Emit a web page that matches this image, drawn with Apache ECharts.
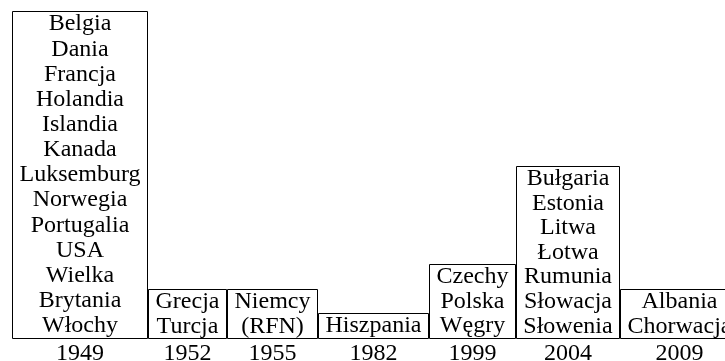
<!DOCTYPE html>
<html lang="pl">
<head>
    <meta charset="UTF-8">
    <title>NATO - kraje członkowskie</title>
    <script src="https://cdn.jsdelivr.net/npm/echarts@6/dist/echarts.min.js"></script>
    <style>
        body { margin: 0; background: #fff; }
        #chart { width: 725px; height: 361px; }
    </style>
</head>
<body>
    <div id="chart"></div>
    <script>
        const years = ['1949', '1952', '1955', '1982', '1999', '2004', '2009'];
        const members = [
            ['Belgia', 'Dania', 'Francja', 'Holandia', 'Islandia', 'Kanada', 'Luksemburg',
             'Norwegia', 'Portugalia', 'USA', 'Wielka', 'Brytania', 'Włochy'],
            ['Grecja', 'Turcja'],
            ['Niemcy', '(RFN)'],
            ['Hiszpania'],
            ['Czechy', 'Polska', 'Węgry'],
            ['Bułgaria', 'Estonia', 'Litwa', 'Łotwa', 'Rumunia', 'Słowacja', 'Słowenia'],
            ['Albania', 'Chorwacja']
        ];
        // box heights, in text rows
        const heights = [13.35, 2, 2, 1, 3, 7, 2];

        const FAMILY = '"Liberation Serif", "DejaVu Serif", serif';
        const SIZE = 24;
        const PAD = 7;
        const GAP = 1;

        // box widths follow the longest line inside, like a text node
        const ctx = document.createElement('canvas').getContext('2d');
        ctx.font = SIZE + 'px ' + FAMILY;
        let cursor = 12;
        const boxes = members.map((lines, i) => {
            const w = Math.max(...lines.map(t => ctx.measureText(t).width)) + 2 * PAD;
            const item = [cursor, cursor + w, heights[i], i];
            cursor += w + GAP;
            return item;
        });

        const chart = echarts.init(document.getElementById('chart'));

        function txt(text, x, y) {
            return {
                type: 'text',
                style: {
                    text: text, x: x, y: y,
                    font: SIZE + 'px ' + FAMILY, fill: '#000',
                    align: 'center', verticalAlign: 'middle'
                }
            };
        }

        function renderItem(params, api) {
            const i = api.value(3);
            const p0 = api.coord([api.value(0), api.value(2)]);
            const p1 = api.coord([api.value(1), 0]);
            const x0 = Math.round(p0[0]) + 0.5;
            const x1 = Math.round(p1[0]) + 0.5;
            const top = Math.round(p0[1]) + 0.5;
            const bottom = Math.round(p1[1]) + 0.5;
            const lines = members[i];
            const step = (bottom - top) / lines.length;
            const children = [{
                type: 'rect',
                shape: { x: x0, y: top, width: x1 - x0, height: bottom - top },
                style: { fill: '#fff', stroke: '#000', lineWidth: 1 }
            }];
            lines.forEach((t, k) => {
                children.push(txt(t, (x0 + x1) / 2, top + (k + 0.5) * step));
            });
            children.push(txt(years[i], (x0 + x1) / 2, bottom + 15));
            return { type: 'group', children: children };
        }

        const option = {
            animation: false,
            textStyle: { fontFamily: FAMILY },
            grid: { left: 0, right: 0, top: 7, bottom: 23 },
            xAxis: { type: 'value', min: 0, max: 725, show: false },
            yAxis: { type: 'value', min: 0, max: 13.5, show: false },
            series: [{
                type: 'custom',
                renderItem: renderItem,
                encode: { x: [0, 1], y: 2 },
                data: boxes
            }]
        };
        chart.setOption(option);
    </script>
</body>
</html>
